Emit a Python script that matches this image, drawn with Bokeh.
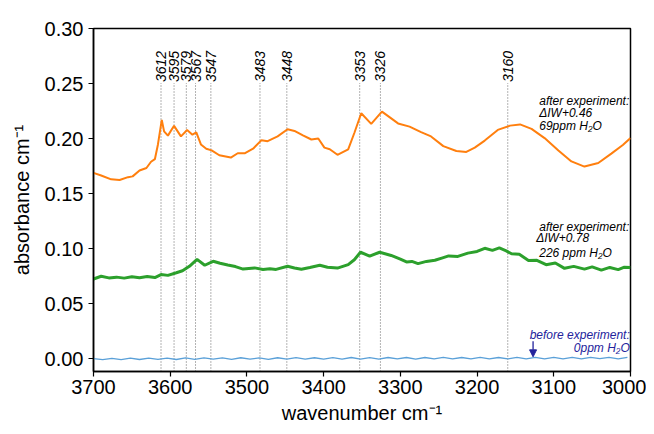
from bokeh.plotting import figure
from bokeh.models import Range1d, FixedTicker, NumeralTickFormatter, Label, Arrow, NormalHead, ColumnDataSource
from bokeh.core.properties import value
from bokeh.embed import file_html
from bokeh.resources import INLINE

FONT = "Liberation Sans"

# --- data ---
orange_wn = [3700, 3690, 3677, 3666, 3655, 3649, 3640, 3631, 3625, 3620, 3616, 3611, 3608, 3603, 3595,
             3586, 3578, 3571, 3566, 3560, 3553, 3546, 3536, 3521, 3512, 3503, 3492, 3481, 3473, 3460,
             3447, 3438, 3427, 3416, 3407, 3399, 3392, 3382, 3368, 3360, 3351, 3338, 3324, 3303, 3288,
             3273, 3260, 3244, 3227, 3214, 3203, 3190, 3173, 3157, 3144, 3129, 3112, 3094, 3077, 3060,
             3042, 3025, 3010, 3000]
orange_abs = [0.1689, 0.1665, 0.1630, 0.1624, 0.1650, 0.1657, 0.1710, 0.1733, 0.1790, 0.1813, 0.1947,
              0.2170, 0.2066, 0.2027, 0.2116, 0.2020, 0.2078, 0.2036, 0.2057, 0.1947, 0.1908, 0.1893,
              0.1849, 0.1828, 0.1867, 0.1867, 0.1908, 0.1986, 0.1977, 0.2020, 0.2085, 0.2070, 0.2030,
              0.1992, 0.2001, 0.1918, 0.1903, 0.1853, 0.1903, 0.2051, 0.2230, 0.2134, 0.2245, 0.2138,
              0.2109, 0.2059, 0.2020, 0.1932, 0.1888, 0.1879, 0.1918, 0.1982, 0.2079, 0.2118, 0.2129,
              0.2088, 0.2005, 0.1893, 0.1793, 0.1746, 0.1778, 0.1864, 0.1942, 0.2005]

green_wn = [3700, 3690, 3680, 3670, 3660, 3650, 3640, 3630, 3620, 3612, 3603, 3592, 3584, 3575, 3565,
            3555, 3544, 3535, 3525, 3515, 3505, 3490, 3479, 3470, 3462, 3447, 3438, 3429, 3418, 3405,
            3395, 3382, 3368, 3360, 3352, 3340, 3327, 3312, 3300, 3292, 3285, 3277, 3266, 3255, 3246,
            3237, 3225, 3212, 3200, 3190, 3180, 3171, 3162, 3155, 3145, 3133, 3122, 3110, 3098, 3086,
            3074, 3060, 3050, 3038, 3027, 3016, 3008, 3000]
green_abs = [0.0725, 0.0750, 0.0735, 0.0742, 0.0733, 0.0745, 0.0736, 0.0747, 0.0738, 0.0765, 0.0758,
             0.0782, 0.0800, 0.0840, 0.0903, 0.0850, 0.0886, 0.0868, 0.0852, 0.0838, 0.0815, 0.0826,
             0.0812, 0.0818, 0.0812, 0.0841, 0.0825, 0.0814, 0.0830, 0.0850, 0.0832, 0.0824, 0.0856,
             0.0900, 0.0968, 0.0933, 0.0968, 0.0939, 0.0905, 0.0880, 0.0885, 0.0865, 0.0885, 0.0895,
             0.0915, 0.0935, 0.0930, 0.0960, 0.0975, 0.1004, 0.0985, 0.1007, 0.0980, 0.0954, 0.0950,
             0.0894, 0.0895, 0.0855, 0.0870, 0.0822, 0.0840, 0.0815, 0.0835, 0.0805, 0.0830, 0.0810,
             0.0832, 0.0829]

blue_wn = list(range(3700, 2999, -12))
blue_abs = [0.0002, -0.0008, 0.0005, -0.0007, 0.0006, -0.0006, 0.0007, -0.0005, 0.0006, -0.0006,
            0.0008, -0.0004, 0.0009, -0.0003, 0.0009, -0.0004, 0.0010, -0.0003, 0.0009, -0.0004,
            0.0010, -0.0003, 0.0011, -0.0002, 0.0010, -0.0003, 0.0011, -0.0002, 0.0012, -0.0002,
            0.0011, -0.0002, 0.0012, -0.0001, 0.0012, -0.0002, 0.0012, -0.0001, 0.0013, -0.0001,
            0.0012, -0.0001, 0.0013, 0.0000, 0.0012, -0.0001, 0.0013, 0.0000, 0.0013, -0.0001,
            0.0014, 0.0000, 0.0013, 0.0000, 0.0014, 0.0001, 0.0013, 0.0000, 0.0014]

peaks = [3612, 3595, 3579, 3567, 3547, 3483, 3448, 3353, 3326, 3160]
peak_labels = [str(v) for v in peaks]

y_ticks = [0.00, 0.05, 0.10, 0.15, 0.20, 0.25, 0.30]
x_ticks = [3700, 3600, 3500, 3400, 3300, 3200, 3100, 3000]

Y_MIN, Y_MAX = -0.0115, 0.30
LINE_TOP = 0.2505

p = figure(width=646, height=426, output_backend="svg", toolbar_location=None,
           x_range=Range1d(3700, 3000), y_range=Range1d(Y_MIN, Y_MAX),
           min_border_left=93, min_border_right=16, min_border_top=28, min_border_bottom=48)
p.background_fill_color = "white"
p.border_fill_color = "white"
p.grid.visible = False
p.outline_line_color = "black"
p.outline_line_width = 1.5
p.outline_line_alpha = 1.0

for ax in (p.xaxis[0], p.yaxis[0]):
    ax.major_tick_in = 0
    ax.major_tick_out = 5
    ax.minor_tick_in = 0
    ax.minor_tick_out = 0
    ax.axis_line_width = 1.5
    ax.major_tick_line_width = 1.2
    ax.major_label_text_font = FONT
    ax.major_label_text_font_size = "20px"
    ax.major_label_text_color = "black"
    ax.axis_label_text_font = FONT
    ax.axis_label_text_font_size = "20px"
    ax.axis_label_text_font_style = "normal"
    ax.axis_label_text_color = "black"

p.xaxis.ticker = FixedTicker(ticks=x_ticks)
p.yaxis.ticker = FixedTicker(ticks=y_ticks)
p.yaxis.formatter = NumeralTickFormatter(format="0.00")
p.xaxis.major_label_standoff = 3
p.yaxis.major_label_standoff = 5
p.xaxis.axis_label = "wavenumber cm⁻¹"
p.yaxis.axis_label = "absorbance cm⁻¹"
p.xaxis.axis_label_standoff = 5
p.yaxis.axis_label_standoff = 9

# vertical dotted peak markers
src = ColumnDataSource(dict(x=peaks, lab=peak_labels,
                            y0=[Y_MIN] * len(peaks), y1=[LINE_TOP] * len(peaks),
                            ty=[LINE_TOP + 0.0008] * len(peaks)))
p.segment(x0="x", y0="y0", x1="x", y1="y1", source=src, line_color="#666666",
          line_width=1, line_dash="1 2")
p.text(x="x", y="ty", text="lab", source=src, angle=1.5708, text_align="left",
       text_baseline="middle", text_font=value(FONT), text_font_style="italic",
       text_font_size="14px", text_color="black")

# spectra
p.line(blue_wn, blue_abs, line_color="#5aa0d8", line_width=1.3)
p.line(green_wn, green_abs, line_color="#2ca02c", line_width=3)
p.line(orange_wn, orange_abs, line_color="#ff7f0e", line_width=2)

def lab(x, y, t, align="left", color="black", size="12px"):
    p.add_layout(Label(x=x, y=y, text=t, text_align=align, text_baseline="middle",
                       text_font=FONT, text_font_style="italic", text_font_size=size,
                       text_color=color))

lab(3004, 0.3075, "FTIR in olivine", align="right", size="14px")

lab(3119, 0.2345, "after experiment:")
lab(3119, 0.2229, "ΔIW+0.46")
lab(3119, 0.2113, "69ppm H₂O")

lab(3119, 0.1200, "after experiment:")
lab(3123, 0.1093, "ΔIW+0.78")
lab(3119, 0.0963, " 226 ppm H₂O")

navy = "#23239c"
lab(3001, 0.0218, "before experiment:", align="right", color=navy)
lab(3001, 0.0102, "0ppm H₂O", align="right", color=navy)
p.add_layout(Arrow(end=NormalHead(size=7, fill_color=navy, line_color=navy),
                   x_start=3127, y_start=0.0160, x_end=3127, y_end=0.0018,
                   line_color=navy, line_width=1.3))

open("out.html", "w").write(file_html(p, INLINE))
